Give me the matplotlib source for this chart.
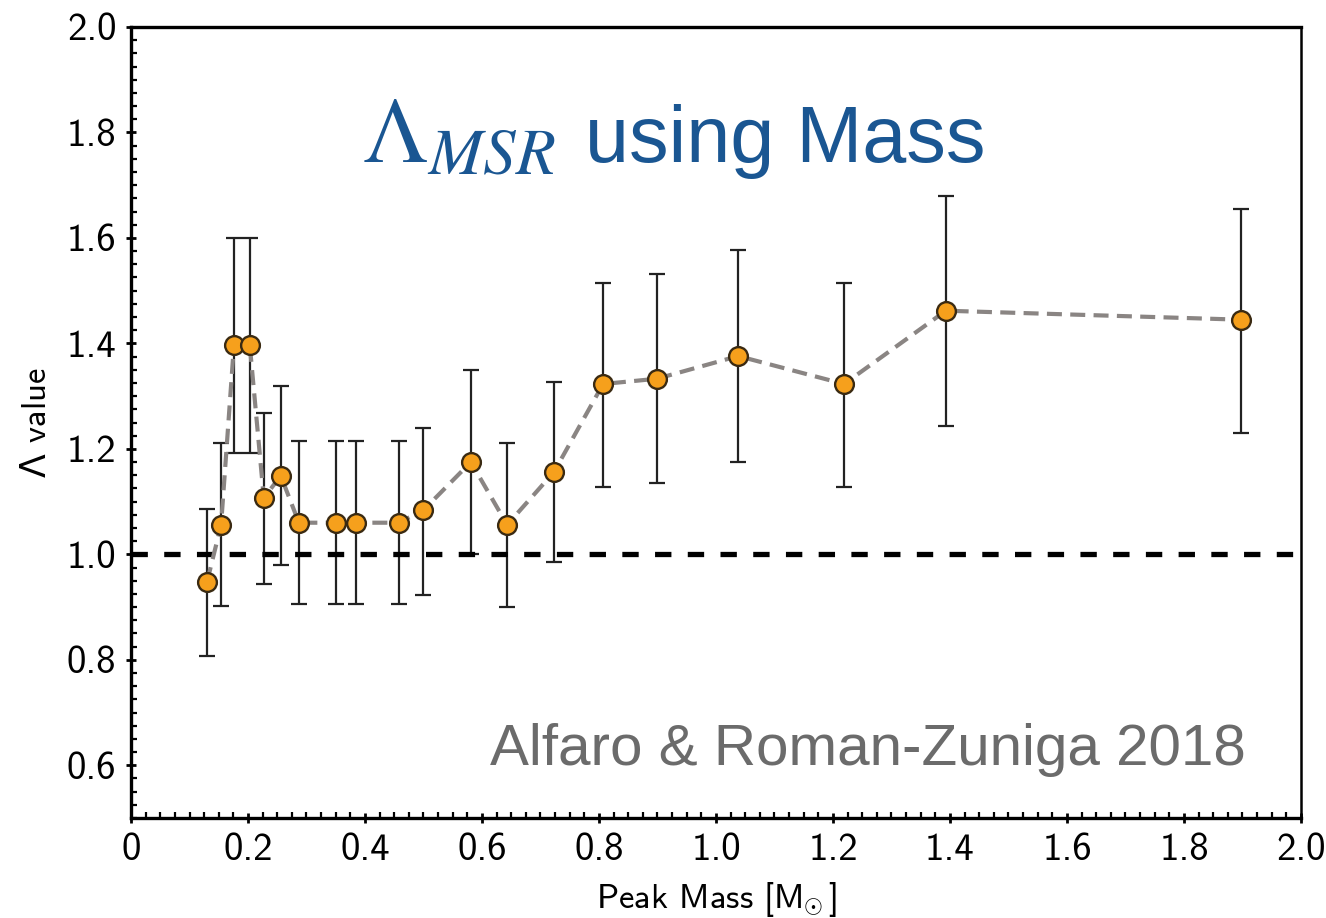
import numpy as np
import matplotlib.pyplot as plt
from matplotlib.ticker import MultipleLocator, FixedLocator, FuncFormatter


# Valores de Lambda por masa pico, con sus barras de error (limite superior e inferior)
masa = [0.130, 0.154, 0.176, 0.203, 0.227, 0.256, 0.287, 0.350, 0.385, 0.458,
        0.500, 0.581, 0.643, 0.723, 0.807, 0.899, 1.038, 1.219, 1.393, 1.897]
lam = [0.948, 1.056, 1.397, 1.397, 1.107, 1.149, 1.060, 1.060, 1.060, 1.060,
       1.084, 1.175, 1.056, 1.156, 1.323, 1.333, 1.376, 1.323, 1.462, 1.445]
lam_sup = [1.086, 1.211, 1.600, 1.600, 1.268, 1.320, 1.215, 1.215, 1.215, 1.215,
           1.240, 1.350, 1.211, 1.327, 1.515, 1.532, 1.577, 1.515, 1.680, 1.655]
lam_inf = [0.808, 0.902, 1.192, 1.192, 0.944, 0.980, 0.906, 0.906, 0.906, 0.906,
           0.923, 1.000, 0.900, 0.986, 1.128, 1.136, 1.175, 1.128, 1.244, 1.230]

lam_ref = 1.0

xticks = [0, 0.2, 0.4, 0.6, 0.8, 1.0, 1.2, 1.4, 1.6, 1.8, 2.0]
xlabels = ['0', '0.2', '0.4', '0.6', '0.8', '1.0', '1.2', '1.4', '1.6', '1.8', '2.0']
yticks = [0.6, 0.8, 1.0, 1.2, 1.4, 1.6, 1.8, 2.0]


plt.rcParams['font.family'] = ['cmss10', 'DejaVu Sans']
plt.rcParams['mathtext.fontset'] = 'cm'

fig = plt.figure(figsize=(13.26, 9.18), dpi=100)
ax = fig.add_axes([0.0988, 0.1089, 0.8823, 0.8617])

x = np.array(masa)
y = np.array(lam)
yerr = np.array([y - np.array(lam_inf), np.array(lam_sup) - y])

# Barras de error
ax.errorbar(x, y, yerr=yerr, fmt='none', ecolor='#222222', elinewidth=1.6,
            capsize=6, capthick=1.6, zorder=2)

# Linea de referencia Lambda = 1
ax.axhline(lam_ref, color='black', lw=3.8, dashes=(3.1, 3.1), zorder=3)

# Curva punteada y puntos
ax.plot(x, y, color='#8a8583', lw=3.0, dashes=(3.6, 2.0), zorder=4)
ax.plot(x, y, 'o', ms=13.5, mfc='#f6a01c', mec='#3a2a12', mew=1.7, zorder=5)

ax.set_xlim(0, 2.0)
ax.set_ylim(0.5, 2.0)
ax.xaxis.set_major_locator(FixedLocator(xticks))
ax.set_xticklabels(xlabels)
ax.xaxis.set_minor_locator(MultipleLocator(0.025))
ax.yaxis.set_major_locator(FixedLocator(yticks))
ax.yaxis.set_major_formatter(FuncFormatter(lambda v, p: f'{v:.1f}'))
ax.yaxis.set_minor_locator(MultipleLocator(0.025))
ax.xaxis.set_ticks_position('bottom')
ax.yaxis.set_ticks_position('left')

ax.tick_params(which='both', top=False, right=False,
               labeltop=False, labelright=False)
ax.tick_params(which='major', direction='inout', length=7, width=2,
               labelsize=28, pad=7)
ax.tick_params(which='minor', direction='in', length=4, width=1.6)

for lado in ['left', 'bottom', 'top']:
    ax.spines[lado].set_linewidth(2.4)
ax.spines['right'].set_linewidth(1.8)

ax.set_xlabel(r'Peak Mass [$\mathsf{M}_{\!\!\odot}$]', fontsize=25, labelpad=9)
ax.set_ylabel(r'$\Lambda$ value', fontsize=25, labelpad=10,
              math_fontfamily='dejavusans')

# Titulo dentro del panel
azul = '#1a5692'
fig.text(362 / 1326, 1 - 162 / 918, r'$\Lambda_{MSR}$', fontsize=67,
         color=azul, math_fontfamily='stix', va='baseline', ha='left')
fig.text(585 / 1326, 1 - 162 / 918, 'using Mass', fontsize=57, color=azul,
         family='Liberation Sans', va='baseline', ha='left')

fig.text(490 / 1326, 1 - 765 / 918, 'Alfaro & Roman-Zuniga 2018', fontsize=42,
         color='#6b6b6b', family='Liberation Sans', va='baseline', ha='left')

fig.savefig('out.png', dpi=100)
